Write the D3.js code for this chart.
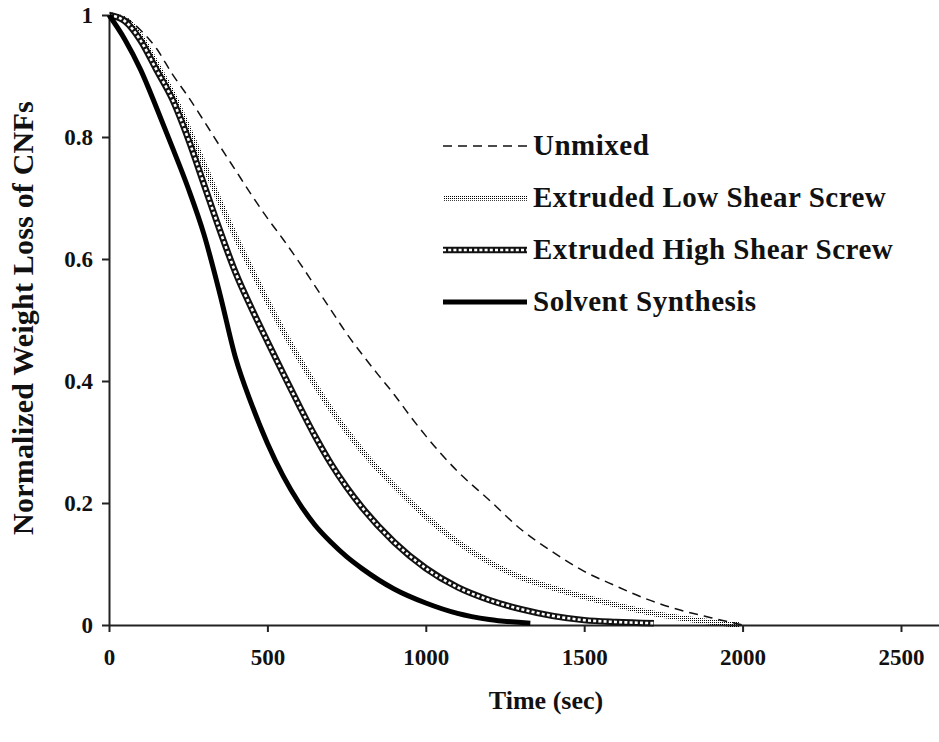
<!DOCTYPE html>
<html>
<head>
<meta charset="utf-8">
<script src="https://cdn.jsdelivr.net/npm/d3@7/dist/d3.min.js"></script>
<style>
  html, body { margin: 0; padding: 0; background: #fff; }
  svg { display: block; }
  text { font-family: "Liberation Serif", "Times New Roman", serif; font-weight: bold; fill: #111; }
</style>
</head>
<body>
<svg id="chart" width="939" height="742"></svg>
<script>
// Thermogravimetric decay of CNF weight over time, four preparation routes
const seriesNames = ["Unmixed", "Extruded Low Shear Screw", "Extruded High Shear Screw", "Solvent Synthesis"];

const unmixedTime  = [0, 50, 100, 150, 200, 250, 300, 350, 400, 450, 500, 550, 600, 650, 700, 750, 800, 850, 900, 950, 1000, 1100, 1200, 1300, 1400, 1500, 1600, 1700, 1800, 1900, 2000];
const unmixedValue = [1, 0.995, 0.975, 0.945, 0.903, 0.866, 0.826, 0.785, 0.745, 0.705, 0.667, 0.632, 0.595, 0.556, 0.517, 0.478, 0.443, 0.41, 0.378, 0.343, 0.31, 0.252, 0.205, 0.157, 0.12, 0.088, 0.064, 0.042, 0.025, 0.012, 0];

const lowShearTime  = [0, 50, 100, 150, 200, 250, 300, 350, 400, 450, 500, 550, 600, 650, 700, 750, 800, 900, 1000, 1100, 1200, 1300, 1400, 1500, 1600, 1700, 1800, 1900, 1990];
const lowShearValue = [1, 0.993, 0.965, 0.92, 0.872, 0.815, 0.755, 0.694, 0.636, 0.583, 0.531, 0.482, 0.437, 0.394, 0.354, 0.318, 0.285, 0.228, 0.178, 0.136, 0.103, 0.078, 0.061, 0.046, 0.033, 0.021, 0.012, 0.005, 0];

const highShearTime  = [0, 50, 100, 150, 200, 250, 300, 350, 400, 450, 500, 550, 600, 650, 700, 750, 800, 900, 1000, 1100, 1200, 1300, 1400, 1500, 1600, 1720];
const highShearValue = [1, 0.99, 0.958, 0.91, 0.862, 0.797, 0.722, 0.647, 0.577, 0.519, 0.465, 0.412, 0.36, 0.31, 0.265, 0.226, 0.192, 0.136, 0.093, 0.062, 0.041, 0.026, 0.015, 0.008, 0.005, 0.003];

const solventTime  = [0, 50, 100, 150, 200, 250, 300, 350, 400, 450, 500, 550, 600, 650, 700, 750, 800, 900, 1000, 1100, 1200, 1330];
const solventValue = [1, 0.96, 0.91, 0.848, 0.783, 0.716, 0.64, 0.543, 0.437, 0.362, 0.298, 0.244, 0.2, 0.164, 0.136, 0.112, 0.092, 0.059, 0.036, 0.019, 0.009, 0.003];

const xTicks = [0, 500, 1000, 1500, 2000, 2500];
const yTicks = [0, 0.2, 0.4, 0.6, 0.8, 1];
const xTitle = "Time (sec)";
const yTitle = "Normalized Weight Loss of CNFs";

const svg = d3.select("#chart");

const x = d3.scaleLinear().domain([0, 2620]).range([109, 939]);
const y = d3.scaleLinear().domain([0, 1]).range([625, 15]);

// Dot texture used for the low-shear curve
const defs = svg.append("defs");
const pat = defs.append("pattern")
  .attr("id", "dots")
  .attr("patternUnits", "userSpaceOnUse")
  .attr("width", 2).attr("height", 2);
pat.append("rect").attr("x", 0).attr("y", 0).attr("width", 1).attr("height", 1).attr("fill", "#000");

// Axes
const xAxis = svg.append("g")
  .attr("transform", `translate(0,${y(0)})`)
  .call(d3.axisBottom(x).tickValues(xTicks).tickFormat(d3.format("d")).tickSize(7).tickSizeOuter(0).tickPadding(17));
const yAxis = svg.append("g")
  .attr("transform", `translate(${x(0)},0)`)
  .call(d3.axisLeft(y).tickValues(yTicks).tickFormat(d => d === 0 || d === 1 ? String(d) : d3.format(".1f")(d)).tickSize(7).tickSizeOuter(0).tickPadding(9));

[xAxis, yAxis].forEach(g => {
  g.select(".domain").attr("stroke", "#222").attr("stroke-width", 2);
  g.selectAll(".tick line").attr("stroke", "#222").attr("stroke-width", 2);
  g.selectAll(".tick text").attr("font-size", 23).attr("font-family", "Liberation Serif, serif").attr("font-weight", "bold").attr("fill", "#111");
});

svg.append("text")
  .attr("x", 546).attr("y", 709)
  .attr("text-anchor", "middle")
  .attr("font-size", 26)
  .text(xTitle);

svg.append("text")
  .attr("transform", `translate(33,318) rotate(-90)`)
  .attr("text-anchor", "middle")
  .attr("font-size", 30)
  .attr("letter-spacing", 0.2)
  .text(yTitle);

// Curves
const line = d3.line().x(d => x(d[0])).y(d => y(d[1])).curve(d3.curveMonotoneX);
const zipSeries = (t, v) => t.map((d, i) => [d, v[i]]);

const plot = svg.append("g");

function drawStyled(g, pathFn, style) {
  if (style === "dash") {
    g.append("path").attr("d", pathFn).attr("fill", "none").attr("stroke", "#111").attr("stroke-width", 1.5).attr("stroke-dasharray", "9,6");
  } else if (style === "dots") {
    g.append("path").attr("d", pathFn).attr("fill", "none").attr("stroke", "url(#dots)").attr("stroke-width", 5.5);
  } else if (style === "boxes") {
    g.append("path").attr("d", pathFn).attr("fill", "none").attr("stroke", "#111").attr("stroke-width", 6.5);
    g.append("path").attr("d", pathFn).attr("fill", "none").attr("stroke", "#fff").attr("stroke-width", 2.6).attr("stroke-dasharray", "3,2.2");
  } else {
    g.append("path").attr("d", pathFn).attr("fill", "none").attr("stroke", "#000").attr("stroke-width", 5);
  }
}

const seriesData = [
  { name: seriesNames[0], pts: zipSeries(unmixedTime, unmixedValue), style: "dash" },
  { name: seriesNames[1], pts: zipSeries(lowShearTime, lowShearValue), style: "dots" },
  { name: seriesNames[2], pts: zipSeries(highShearTime, highShearValue), style: "boxes" },
  { name: seriesNames[3], pts: zipSeries(solventTime, solventValue), style: "solid" }
];

seriesData.forEach(s => drawStyled(plot, line(s.pts), s.style));

// Legend
const legend = svg.append("g");
seriesData.forEach((s, i) => {
  const ly = 146 + i * 52;
  const row = legend.append("g");
  drawStyled(row, `M443,${ly}H527`, s.style);
  row.append("text")
    .attr("x", 533).attr("y", ly + 9)
    .attr("font-size", 29)
    .attr("letter-spacing", 0.5)
    .text(s.name);
});
</script>
</body>
</html>
